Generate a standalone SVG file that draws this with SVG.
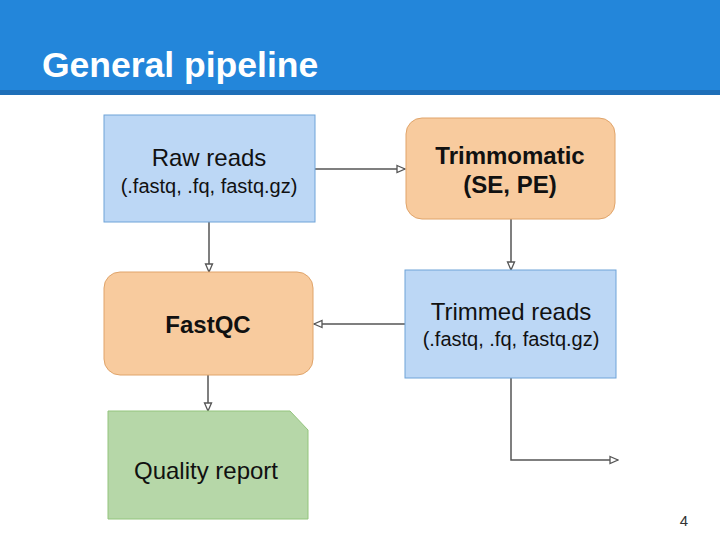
<svg xmlns="http://www.w3.org/2000/svg" width="720" height="540" viewBox="0 0 720 540">
<style>
.t{font-family:"Liberation Sans",Arial,sans-serif;fill:#111;text-anchor:middle}
.b{font-size:24px}
.s{font-size:20px}
.bold{font-weight:bold}
.blue{fill:#bcd7f5;stroke:#6fa3d8;stroke-width:1}
.orange{fill:#f8cb9e;stroke:#e0a46a;stroke-width:1}
.green{fill:#b6d7a8;stroke:#93c47d;stroke-width:1}
.c{fill:none;stroke:#555;stroke-width:1.5}
</style>
<defs>
<marker id="ah" viewBox="0 0 10 10" refX="9" refY="5" markerWidth="10" markerHeight="10" orient="auto" markerUnits="userSpaceOnUse">
<path d="M1,1.5 L9,5 L1,8.5 Z" fill="#fff" stroke="#555" stroke-width="1.3"/>
</marker>
</defs>
<rect x="0" y="0" width="720" height="540" fill="#fff"/>
<g id="header">
<rect x="0" y="0" width="720" height="92" fill="#2386da"/>
<rect x="0" y="90" width="720" height="5" fill="#1e6fb8"/>
<text x="42" y="77" font-family="'Liberation Sans',Arial,sans-serif" font-size="35.5" font-weight="bold" fill="#fff">General pipeline</text>
</g>
<g id="connectors">
<path class="c" d="M315,169 H405" marker-end="url(#ah)"/>
<path class="c" d="M209,222 V272" marker-end="url(#ah)"/>
<path class="c" d="M511,219 V270" marker-end="url(#ah)"/>
<path class="c" d="M405,324 H314" marker-end="url(#ah)"/>
<path class="c" d="M208,375 V411" marker-end="url(#ah)"/>
<path class="c" d="M511,378 V460 H618" marker-end="url(#ah)"/>
</g>
<g id="raw-reads">
<rect class="blue" x="104" y="115" width="211" height="107"/>
<text class="t b" x="209" y="166">Raw reads</text>
<text class="t s" x="209" y="193">(.fastq, .fq, fastq.gz)</text>
</g>
<g id="trimmomatic">
<rect class="orange" x="406" y="118" width="209" height="101" rx="16"/>
<text class="t b bold" x="510" y="164">Trimmomatic</text>
<text class="t b bold" x="510" y="193">(SE, PE)</text>
</g>
<g id="fastqc">
<rect class="orange" x="104" y="272" width="209" height="103" rx="16"/>
<text class="t b bold" x="208" y="333">FastQC</text>
</g>
<g id="trimmed-reads">
<rect class="blue" x="405" y="270" width="211" height="108"/>
<text class="t b" x="511" y="320">Trimmed reads</text>
<text class="t s" x="511" y="346">(.fastq, .fq, fastq.gz)</text>
</g>
<g id="quality-report">
<path class="green" d="M108,411 H290 L308,430 V519 H108 Z"/>
<text class="t b" x="206" y="479">Quality report</text>
</g>
<text x="684" y="526" font-family="'Liberation Sans',Arial,sans-serif" font-size="15" fill="#333" text-anchor="middle">4</text>
</svg>
